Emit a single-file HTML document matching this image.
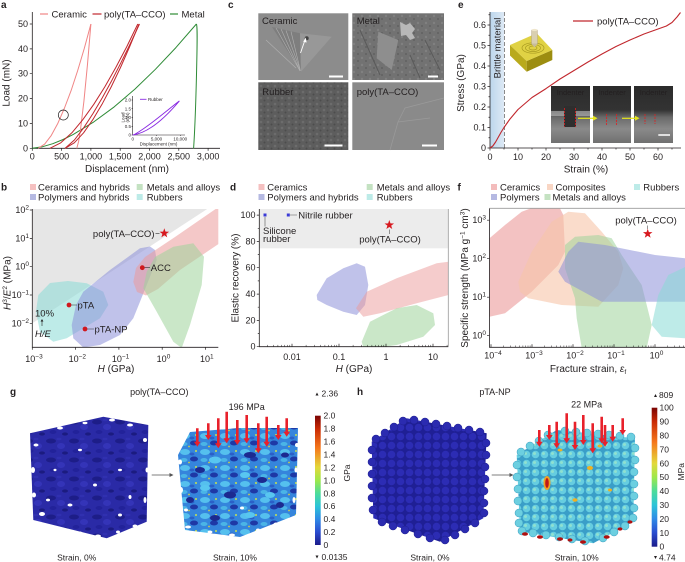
<!DOCTYPE html>
<html><head><meta charset="utf-8">
<style>
html,body{margin:0;padding:0;background:#fff;width:685px;height:562px;overflow:hidden}
svg{display:block}
text{font-family:"Liberation Sans",Arial,sans-serif;fill:#231f20}
.ax{stroke:#231f20;stroke-width:0.8;fill:none}
.tk{stroke:#231f20;stroke-width:0.7;fill:none}
</style></head><body>
<svg width="685" height="562" viewBox="0 0 685 562" xmlns="http://www.w3.org/2000/svg">
<defs>
<clipPath id="cb"><rect x="32.3" y="209" width="186" height="138.3"/></clipPath>
<clipPath id="cd"><rect x="259.3" y="209" width="189" height="137.7"/></clipPath>
<clipPath id="cf"><rect x="489.5" y="208.3" width="195.5" height="139"/></clipPath>
<linearGradient id="jet" x1="0" y1="0" x2="0" y2="1">
<stop offset="0" stop-color="#7a0403"/><stop offset="0.1" stop-color="#c92a05"/><stop offset="0.25" stop-color="#f5781c"/>
<stop offset="0.4" stop-color="#e3d83a"/><stop offset="0.5" stop-color="#9ee84a"/><stop offset="0.6" stop-color="#4cdc9a"/>
<stop offset="0.7" stop-color="#2cc4d8"/><stop offset="0.8" stop-color="#2f8ae6"/><stop offset="0.9" stop-color="#2a4cd0"/>
<stop offset="1" stop-color="#1b1b8a"/></linearGradient>
<linearGradient id="sem" x1="0" y1="0" x2="0" y2="1"><stop offset="0" stop-color="#2b2b2b"/><stop offset="0.42" stop-color="#333"/><stop offset="0.55" stop-color="#6a6a6a"/><stop offset="0.75" stop-color="#8a8a8a"/><stop offset="1" stop-color="#707070"/></linearGradient>
<linearGradient id="brit" x1="0" y1="0" x2="1" y2="0"><stop offset="0" stop-color="#bcd6ec"/><stop offset="1" stop-color="#dde9f5"/></linearGradient>
<pattern id="nz" width="7" height="6" patternUnits="userSpaceOnUse"><rect width="7" height="6" fill="#5d5d5d"/><circle cx="2" cy="2" r="1.3" fill="#6c6c6c"/><circle cx="5.5" cy="4.5" r="1" fill="#4c4c4c"/></pattern>
<pattern id="nz2" width="8" height="7" patternUnits="userSpaceOnUse"><rect width="8" height="7" fill="#727272"/><circle cx="2" cy="2" r="1.2" fill="#808080"/><circle cx="6" cy="5" r="1" fill="#616161"/></pattern>
<pattern id="pgL" width="23" height="19" patternUnits="userSpaceOnUse"><rect width="23" height="19" fill="#2a2aa6"/><ellipse cx="5" cy="4" rx="5" ry="2.5" fill="#1d1d88"/><ellipse cx="15" cy="9" rx="4" ry="3" fill="#3434b8"/><ellipse cx="7" cy="14" rx="3.5" ry="2" fill="#22229a"/><ellipse cx="19" cy="16" rx="3" ry="1.6" fill="#1b1b80"/><ellipse cx="13" cy="2" rx="2.5" ry="1.2" fill="#3030b0"/></pattern>
<pattern id="pgR" width="20" height="16" patternUnits="userSpaceOnUse"><rect width="20" height="16" fill="#3585dc"/><ellipse cx="5" cy="4" rx="5" ry="3" fill="#55c0ee"/><ellipse cx="14" cy="11" rx="4" ry="2.5" fill="#1e38a6"/><circle cx="16" cy="3" r="1" fill="#c8e050"/><ellipse cx="4" cy="12" rx="3.5" ry="2" fill="#4ab4e6"/><ellipse cx="12" cy="6" rx="2.5" ry="1.5" fill="#2a5fc8"/><circle cx="9" cy="14.5" r="0.9" fill="#d0d040"/></pattern>
<pattern id="phL" width="9" height="9" patternUnits="userSpaceOnUse"><rect width="9" height="9" fill="#1f1f95"/><circle cx="4.5" cy="4.5" r="3.8" fill="#2c2cb4"/></pattern>
<pattern id="phR" width="9" height="9" patternUnits="userSpaceOnUse"><rect width="9" height="9" fill="#3a9ec8"/><circle cx="4.5" cy="4.5" r="3.8" fill="#66cde0"/><circle cx="3.5" cy="3.5" r="1.5" fill="#8fe0d0"/></pattern>
</defs>

<!-- ================= Panel a ================= -->
<text x="1" y="8" font-size="10" font-weight="bold">a</text>
<line x1="40" y1="14" x2="48" y2="14" stroke="#f08585" stroke-width="1.2"/>
<text x="51.5" y="17.3" font-size="9.5">Ceramic</text>
<line x1="92.5" y1="14" x2="101.5" y2="14" stroke="#c1272d" stroke-width="1.2"/>
<text x="104" y="17.3" font-size="9.5">poly(TA–CCO)</text>
<line x1="170" y1="14" x2="178" y2="14" stroke="#2e8b36" stroke-width="1.2"/>
<text x="181.5" y="17.3" font-size="9.5">Metal</text>
<path class="ax" d="M32.3,12V148.3H220"/>
<path class="tk" d="M29.8,148.3H32.3M29.8,123.4H32.3M29.8,98.6H32.3M29.8,73.7H32.3M29.8,48.9H32.3M29.8,24H32.3M32.3,148.3v2.5M61.6,148.3v2.5M90.9,148.3v2.5M120.2,148.3v2.5M149.5,148.3v2.5M178.8,148.3v2.5M208.1,148.3v2.5"/>
<g font-size="9" text-anchor="end">
<text x="28" y="151.3">0</text><text x="28" y="126.4">10</text><text x="28" y="101.6">20</text><text x="28" y="76.7">30</text><text x="28" y="51.9">40</text><text x="28" y="27">50</text>
</g>
<g font-size="9" text-anchor="middle">
<text x="32.3" y="159.7">0</text><text x="61.6" y="159.7">500</text><text x="90.9" y="159.7">1,000</text><text x="120.2" y="159.7">1,500</text><text x="149.5" y="159.7">2,000</text><text x="178.8" y="159.7">2,500</text><text x="208.1" y="159.7">3,000</text>
</g>
<text x="127" y="172" font-size="10" text-anchor="middle">Displacement (nm)</text>
<text x="9.5" y="83" font-size="10" text-anchor="middle" transform="rotate(-90 9.5 83)">Load (mN)</text>
<g fill="none" stroke-width="1" stroke-linejoin="round">
<polyline stroke="#2e8b36" points="32.3,148.3 42.6,146.7 52.8,143.7 63.1,139.5 73.3,134.4 93.8,121.9 114.3,106.8 134.9,89.1 155.4,69.3 175.9,47.6 196.4,24"/>
<path stroke="#2e8b36" d="M196.4,24 C197.5,26 197.3,40 196.6,70 C195.8,105 194.5,135 193.6,148.3"/>
<polyline stroke="#f08585" points="38.2,148.3 44.7,144.1 51.3,135.4 57.9,123.2 64.5,108 71.1,90.6 77.7,70.5 84.3,48.4 90.9,24"/>
<polyline stroke="#f08585" points="90.9,24 87.4,65.3 83.9,101.3 80.4,130.4 78.6,141.5 76.8,148.3"/>
<polyline stroke="#c1272d" points="49.9,148.3 60.8,142.8 71.9,132.8 82.8,119.7 93.8,104.3 104.8,86.9 115.8,67.5 126.8,46.6 137.8,24"/>
<polyline stroke="#c1272d" points="139,24 129.7,46.6 120.5,67.5 111.2,86.9 102,104.3 92.8,119.7 83.6,132.8 74.3,142.8 65.1,148.3"/>
<polyline stroke="#c1272d" points="65.1,148.3 74.4,140 83.7,127.8 93,113.5 102.3,97.8 111.6,80.9 120.9,62.8 130.2,43.9 139.5,24"/>
</g>
<circle cx="63.3" cy="115" r="5" fill="none" stroke="#231f20" stroke-width="0.7"/>
<!-- inset -->
<path d="M132.7,96V135H185" fill="none" stroke="#231f20" stroke-width="0.6"/>
<path d="M131.5,135H132.7M131.5,126.25H132.7M131.5,117.5H132.7M131.5,108.75H132.7M131.5,100H132.7M156.5,135v1M180.3,135v1" stroke="#231f20" stroke-width="0.5"/>
<g font-size="4.5" text-anchor="end">
<text x="131" y="136.5">0</text><text x="131" y="127.8">0.5</text><text x="131" y="119">1.0</text><text x="131" y="110.3">1.5</text><text x="131" y="101.5">2.0</text>
</g>
<g font-size="4.5" text-anchor="middle">
<text x="132.7" y="140.5">0</text><text x="156.5" y="140.5">5,000</text><text x="180.3" y="140.5">10,000</text>
<text x="158.5" y="145.5">Displacement (nm)</text>
<text x="124.5" y="117.5" transform="rotate(-90 124.5 117.5)">Load</text>
<text x="129" y="117.5" transform="rotate(-90 129 117.5)">(mN)</text>
</g>
<line x1="140" y1="99.3" x2="146.5" y2="99.3" stroke="#8a2be2" stroke-width="0.9"/>
<text x="148" y="101" font-size="4.5">Rubber</text>
<path d="M132.7,135 C148,133 165,118 179.4,100.9 M179.4,100.9 C165,112 148,127 133.5,135" fill="none" stroke="#8a2be2" stroke-width="0.9"/>

<!-- ================= Panel c ================= -->
<text x="228" y="8" font-size="10" font-weight="bold">c</text>
<rect x="258.3" y="13.3" width="90" height="66.7" fill="#8c8c8c"/>
<polygon points="272,27 300,33.3 301,71.7" fill="#7e7e7e"/>
<polygon points="300,33.3 331.7,36.7 301,71.7" fill="#989898"/>
<path d="M276,28 L300,71 M281,29 L300,71 M286,30.5 L300.5,71 M291,31.5 L300.5,71 M266,40 L296,68" stroke="#b0b0b0" stroke-width="0.6" fill="none"/>
<circle cx="306.7" cy="38.3" r="2" fill="#444"/>
<path d="M300.5,53 L305,40" stroke="#fff" stroke-width="0.9"/><polygon points="305.8,37.5 303.2,41.8 306.6,42.5" fill="#fff"/>
<rect x="352.3" y="13.3" width="91.7" height="66.7" fill="url(#nz2)"/>
<polygon points="378.3,31.7 398.3,40 391.7,70 376.7,58.3" fill="#8e8e8e"/>
<path d="M400,22 l6,3 l4,-2 l5,6 l-3,4 l3,5 l-5,2 l-4,-5 l-5,1 z" fill="#b8b8b8"/>
<path d="M360,30 L380,75 M425,40 L440,70 M410,55 L420,78" stroke="#5a5a5a" stroke-width="1" fill="none"/>
<rect x="258.3" y="82.3" width="90" height="67.7" fill="url(#nz)"/>
<rect x="352.3" y="82.3" width="91.7" height="67.7" fill="#8a8a8a"/>
<path d="M390,150 L398,122 L405,108 L444,98 M398,122 L430,118" stroke="#9a9a9a" stroke-width="0.8" fill="none"/>
<g font-size="9.5" fill="#fff">
<text x="262" y="24" fill="#fff">Ceramic</text><text x="356.7" y="24" fill="#fff">Metal</text>
<text x="262.3" y="95" fill="#fff">Rubber</text><text x="356.7" y="95" fill="#fff">poly(TA–CCO)</text>
</g>
<path d="M329,76.5H343M428,76.5H438M324.5,145.5H342.5M422,145.5H437" stroke="#fff" stroke-width="2"/>

<!-- ================= Panel e ================= -->
<text x="458" y="8" font-size="10" font-weight="bold">e</text>
<rect x="490" y="12" width="14" height="136" fill="url(#brit)"/>
<line x1="504.5" y1="12" x2="504.5" y2="148" stroke="#8a8a8a" stroke-width="1" stroke-dasharray="4,2"/>
<text x="500.5" y="48" font-size="9.5" text-anchor="middle" transform="rotate(-90 500.5 48)">Brittle material</text>
<path class="ax" d="M490,12V148H681"/>
<path class="tk" d="M487.5,148H490M487.5,127.5H490M487.5,107H490M487.5,86.5H490M487.5,66H490M487.5,45.5H490M487.5,25H490M488.5,137.75H490M488.5,117.25H490M488.5,96.75H490M488.5,76.25H490M488.5,55.75H490M488.5,35.25H490M488.5,14.75H490
M490,148v2.5M518,148v2.5M546,148v2.5M574,148v2.5M602,148v2.5M630,148v2.5M658,148v2.5M504,148v1.5M532,148v1.5M560,148v1.5M588,148v1.5M616,148v1.5M644,148v1.5M672,148v1.5"/>
<g font-size="9" text-anchor="end">
<text x="486" y="151">0</text><text x="486" y="130.5">0.1</text><text x="486" y="110">0.2</text><text x="486" y="89.5">0.3</text><text x="486" y="69">0.4</text><text x="486" y="48.5">0.5</text><text x="486" y="28">0.6</text>
</g>
<g font-size="9" text-anchor="middle">
<text x="490" y="160">0</text><text x="518" y="160">10</text><text x="546" y="160">20</text><text x="574" y="160">30</text><text x="602" y="160">40</text><text x="630" y="160">50</text><text x="658" y="160">60</text>
</g>
<text x="586" y="172.5" font-size="10" text-anchor="middle">Strain (%)</text>
<text x="464" y="83" font-size="10" text-anchor="middle" transform="rotate(-90 464 83)">Stress (GPa)</text>
<line x1="573" y1="21" x2="593" y2="21" stroke="#c1272d" stroke-width="1.2"/>
<text x="597" y="24.5" font-size="9.5">poly(TA–CCO)</text>
<!-- block -->
<polygon points="510,45 510,55.5 526.7,71.7 526.7,61" fill="#b9aa1c"/>
<polygon points="526.7,61 552.3,50 552.3,60 526.7,71.7" fill="#9c8d10"/>
<polygon points="510,45 536.7,33.3 552.3,50 526.7,61" fill="#e0d244"/>
<g fill="none" stroke="#a89a20" stroke-width="0.7">
<ellipse cx="533" cy="48" rx="4" ry="2"/><ellipse cx="533" cy="48" rx="7.5" ry="3.6"/><ellipse cx="533" cy="48" rx="11" ry="5.2"/>
</g>
<rect x="531.5" y="30" width="6" height="14" fill="#d9cfb0" stroke="#a09070" stroke-width="0.3"/>
<ellipse cx="534.5" cy="30" rx="3" ry="1.1" fill="#efe6cc"/>
<polygon points="531.5,44 537.5,44 534.5,47.5" fill="#c8bc98"/>
<!-- SEM insets -->
<rect x="551" y="86" width="39" height="57" fill="url(#sem)"/>
<rect x="551" y="111" width="39" height="5" fill="#bdbdbd" opacity="0.6"/>
<rect x="564" y="106" width="12" height="21" fill="#2e2e2e"/>
<rect x="593" y="86" width="38" height="57" fill="url(#sem)"/>
<rect x="634" y="86" width="39" height="57" fill="url(#sem)"/>
<path d="M564.5,108V127M575.5,108V127M606.5,114V126M616.5,114V126M645,114V124M655,114V124" stroke="#e02020" stroke-width="0.8" stroke-dasharray="2,1"/>
<g font-size="7.5" text-anchor="middle">
<text x="570.5" y="95" fill="#fff">Indenter</text><text x="612" y="95" fill="#fff">Indenter</text><text x="653.5" y="95" fill="#fff">Indenter</text>
</g>
<path d="M578,118.3H594" stroke="#e6e61a" stroke-width="1.2"/><polygon points="597.5,118.3 593,115.8 593,120.8" fill="#e6e61a"/>
<path d="M622,118.3H636" stroke="#e6e61a" stroke-width="1.2"/><polygon points="639.5,118.3 635,115.8 635,120.8" fill="#e6e61a"/>
<path d="M658.3,135H670" stroke="#fff" stroke-width="1.5"/>
<polyline fill="none" stroke="#c1272d" stroke-width="1.1" stroke-linejoin="round" points="490,148 492.8,146 495.6,142 498.4,137 501.2,132 504,127.5 509.6,119.5 518,109.5 532,97.5 546,88.6 560,79 574,70.5 588,62 602,54 616,46.5 630,40 644,34 658,29 666.4,26 672,22.5 677,17 680.5,12.5"/>

<!-- ================= Panel b ================= -->
<text x="1" y="190.5" font-size="10" font-weight="bold">b</text>
<rect x="30" y="184" width="6" height="6" fill="#f5c0c0"/><text x="38" y="190.5" font-size="9.5">Ceramics and hybrids</text>
<rect x="136.7" y="184" width="6" height="6" fill="#c4e2c2"/><text x="146.7" y="190.5" font-size="9.5">Metals and alloys</text>
<rect x="30" y="194" width="6" height="6" fill="#b5b9e2"/><text x="38" y="200.5" font-size="9.5">Polymers and hybrids</text>
<rect x="136.7" y="194" width="6" height="6" fill="#bdebe8"/><text x="146.7" y="200.5" font-size="9.5">Rubbers</text>
<g clip-path="url(#cb)">
<polygon points="32.3,209 207.2,209 32.3,323.3" fill="#e6e6e6"/>
<polygon points="38.3,295 50,283 68,281 86.7,283.3 103.3,291.7 108.3,305 100,318.3 83.3,328.3 66.7,338.3 53.3,341.7 40,331.7 36,311.7" fill="#89dbd5" opacity="0.55"/>
<polygon points="71.7,325 76,305 83.3,291.7 110,270 140,248.3 150,246.5 155,250 156.7,260 146.7,285 140,301.7 133.3,318.3 120,335 100,345 83.3,347.5 73.3,338.3" fill="#8c8fd8" opacity="0.55"/>
<polygon points="133.3,282 136,268 145,257 175,237 218.5,207 218.5,244 180,270 158,289 146,295.5 137,292" fill="#eb9a9a" opacity="0.55"/>
<polygon points="146.7,271.7 155,257 173.3,246.7 193.3,243.3 204,256.7 201.7,285 190,325 181.7,348 173.3,341.7 156.7,311.7 143.3,288.3" fill="#9fd39a" opacity="0.55"/>
</g>
<path class="ax" d="M32.3,209V347.3H218.3"/>
<path class="tk" d="M29.8,210H32.3M29.8,238.4H32.3M29.8,266.7H32.3M29.8,295H32.3M29.8,323.3H32.3M32.3,347.3v2.5M75.6,347.3v2.5M118.9,347.3v2.5M162.2,347.3v2.5M205.5,347.3v2.5"/>
<g font-size="9" text-anchor="end">
<text x="29" y="213">10<tspan dy="-3.5" font-size="6.5">2</tspan></text>
<text x="29" y="241.4">10<tspan dy="-3.5" font-size="6.5">1</tspan></text>
<text x="29" y="269.7">10<tspan dy="-3.5" font-size="6.5">0</tspan></text>
<text x="29" y="298">10<tspan dy="-3.5" font-size="6.5">−1</tspan></text>
<text x="29" y="326.3">10<tspan dy="-3.5" font-size="6.5">−2</tspan></text>
</g>
<g font-size="9" text-anchor="middle">
<text x="34" y="362">10<tspan dy="-3.5" font-size="6.5">−3</tspan></text>
<text x="77.3" y="362">10<tspan dy="-3.5" font-size="6.5">−2</tspan></text>
<text x="120.6" y="362">10<tspan dy="-3.5" font-size="6.5">−1</tspan></text>
<text x="163.5" y="362">10<tspan dy="-3.5" font-size="6.5">0</tspan></text>
<text x="206.8" y="362">10<tspan dy="-3.5" font-size="6.5">1</tspan></text>
</g>
<text x="116" y="372" font-size="10" text-anchor="middle"><tspan font-style="italic">H</tspan> (GPa)</text>
<text x="10.5" y="283" font-size="10" text-anchor="middle" transform="rotate(-90 10.5 283)"><tspan font-style="italic">H</tspan><tspan dy="-3.5" font-size="6.5">3</tspan><tspan dy="3.5">/</tspan><tspan font-style="italic">E</tspan><tspan dy="-3.5" font-size="6.5">2</tspan><tspan dy="3.5"> (MPa)</tspan></text>
<text x="35" y="316.5" font-size="9.5">10%</text>
<path d="M42,326V320.5" stroke="#231f20" stroke-width="0.6"/><polygon points="42,319 40.6,321.5 43.4,321.5" fill="#231f20"/>
<text x="35" y="337" font-size="9.5" font-style="italic">H/E</text>
<g stroke="#333" stroke-width="0.6">
<path d="M155.5,233.3H159.5M144.5,267.7H150M71,305H77M87,329H94"/>
</g>
<g fill="#d0181e"><circle cx="142.3" cy="267.7" r="2.4"/><circle cx="69" cy="305" r="2.4"/><circle cx="85" cy="329" r="2.4"/></g>
<polygon transform="translate(164.3 233.3)" points="0,-5 1.18,-1.62 4.76,-1.55 1.9,0.62 2.94,4.05 0,2 -2.94,4.05 -1.9,0.62 -4.76,-1.55 -1.18,-1.62" fill="#d7191f"/>
<g font-size="9.5">
<text x="154.5" y="236.8" text-anchor="end">poly(TA–CCO)</text>
<text x="150.8" y="271">ACC</text>
<text x="77.5" y="308.5">pTA</text>
<text x="94.5" y="332.5">pTA-NP</text>
</g>

<!-- ================= Panel d ================= -->
<text x="230" y="190.5" font-size="10" font-weight="bold">d</text>
<rect x="258.5" y="184" width="6" height="6" fill="#f5c0c0"/><text x="267.3" y="190.5" font-size="9.5">Ceramics</text>
<rect x="366.7" y="184" width="6" height="6" fill="#c4e2c2"/><text x="376.7" y="190.5" font-size="9.5">Metals and alloys</text>
<rect x="258.5" y="194" width="6" height="6" fill="#b5b9e2"/><text x="267.3" y="200.5" font-size="9.5">Polymers and hybrids</text>
<rect x="366.7" y="194" width="6" height="6" fill="#bdebe8"/><text x="376.7" y="200.5" font-size="9.5">Rubbers</text>
<g clip-path="url(#cd)">
<rect x="259.3" y="209" width="189" height="39.3" fill="#ececec"/>
<polygon points="316.7,295 326.7,278.3 343.3,268.3 356.7,263.3 365,266.7 368.3,285 365,305 356.7,315 343.3,311.7 326.7,305 317.3,300" fill="#8c8fd8" opacity="0.55"/>
<polygon points="356,308.3 366.7,291.7 396.7,278.3 436.7,263.3 448.5,261.7 448.5,295 416.7,303.3 380,313.3 363.3,316.7" fill="#eb9a9a" opacity="0.5"/>
<polygon points="361.7,341.7 370,321.7 396.7,308.3 416.7,305 433.3,313.3 435,325 423.3,336.7 396.7,345 373.3,348.3 363.3,347.3" fill="#9fd39a" opacity="0.55"/>
</g>
<path class="ax" d="M259.3,209V346.7H448.3"/>
<line x1="448.3" y1="209" x2="448.3" y2="346.7" stroke="#9a9a9a" stroke-width="0.8"/>
<path class="tk" d="M256.8,346.7H259.3M256.8,320.4H259.3M256.8,294.1H259.3M256.8,267.7H259.3M256.8,241.4H259.3M256.8,215.1H259.3M257.8,333.5H259.3M257.8,307.2H259.3M257.8,280.9H259.3M257.8,254.6H259.3M257.8,228.3H259.3
M292,346.7v-3M339,346.7v-3M386,346.7v-3M433,346.7v-3"/>
<path d="M267.4,346.7v-1.8M273.3,346.7v-1.8M277.9,346.7v-1.8M281.6,346.7v-1.8M284.7,346.7v-1.8M287.4,346.7v-1.8M289.8,346.7v-1.8M306.1,346.7v-1.8M314.4,346.7v-1.8M320.3,346.7v-1.8M324.9,346.7v-1.8M328.6,346.7v-1.8M331.7,346.7v-1.8M334.4,346.7v-1.8M336.8,346.7v-1.8M353.1,346.7v-1.8M361.4,346.7v-1.8M367.3,346.7v-1.8M371.9,346.7v-1.8M375.6,346.7v-1.8M378.7,346.7v-1.8M381.4,346.7v-1.8M383.8,346.7v-1.8M400.1,346.7v-1.8M408.4,346.7v-1.8M414.3,346.7v-1.8M418.9,346.7v-1.8M422.6,346.7v-1.8M425.7,346.7v-1.8M428.4,346.7v-1.8M430.8,346.7v-1.8M447.1,346.7v-1.8" stroke="#231f20" stroke-width="0.5"/>
<g font-size="9" text-anchor="end">
<text x="255.5" y="349.7">0</text><text x="255.5" y="323.4">20</text><text x="255.5" y="297.1">40</text><text x="255.5" y="270.7">60</text><text x="255.5" y="244.4">80</text><text x="255.5" y="218.1">100</text>
</g>
<g font-size="9" text-anchor="middle">
<text x="292" y="360">0.01</text><text x="339" y="360">0.1</text><text x="386" y="360">1</text><text x="433" y="360">10</text>
</g>
<text x="354" y="372" font-size="10" text-anchor="middle"><tspan font-style="italic">H</tspan> (GPa)</text>
<text x="238.5" y="278" font-size="10" text-anchor="middle" transform="rotate(-90 238.5 278)">Elastic recovery (%)</text>
<rect x="263.5" y="213.5" width="3" height="3" fill="#3b3bd6"/>
<rect x="286.8" y="213.5" width="3" height="3" fill="#3b3bd6"/>
<path d="M265,217V226.5M290,215H297" stroke="#555" stroke-width="0.6"/>
<g font-size="9.5" fill="#6d6d6d">
<text x="263" y="234" fill="#6d6d6d">Silicone</text><text x="263" y="242" fill="#6d6d6d">rubber</text>
<text x="298.3" y="218.5" fill="#6d6d6d">Nitrile rubber</text>
</g>
<polygon transform="translate(389.3 225)" points="0,-5 1.18,-1.62 4.76,-1.55 1.9,0.62 2.94,4.05 0,2 -2.94,4.05 -1.9,0.62 -4.76,-1.55 -1.18,-1.62" fill="#d7191f"/>
<path d="M389.3,229.5V234" stroke="#555" stroke-width="0.6"/>
<text x="390" y="242.5" font-size="9.5" text-anchor="middle">poly(TA–CCO)</text>

<!-- ================= Panel f ================= -->
<text x="457.5" y="190.5" font-size="10" font-weight="bold">f</text>
<rect x="491" y="184" width="6" height="6" fill="#f3bcbc"/><text x="500" y="190.5" font-size="9.5">Ceramics</text>
<rect x="547" y="184" width="6" height="6" fill="#f9d6c4"/><text x="555.5" y="190.5" font-size="9.5">Composites</text>
<rect x="634" y="184" width="6" height="6" fill="#bdebe8"/><text x="643.3" y="190.5" font-size="9.5">Rubbers</text>
<rect x="491" y="194" width="6" height="6" fill="#b5b9e2"/><text x="500" y="200.5" font-size="9.5">Polymers</text>
<rect x="544.5" y="194" width="6" height="6" fill="#c4e2c2"/><text x="552.5" y="200.5" font-size="9.5">Metals and alloys</text>
<g clip-path="url(#cf)">
<polygon points="489.5,238.3 505,225 521.7,211.7 540,205 558.3,205 563.3,215 565,251.7 558.3,265 531.7,291.7 505,313.3 489.5,316.7" fill="#eb9a9a" opacity="0.6"/>
<polygon points="518.3,281.7 531.7,251.7 551.7,221.7 568.3,211.7 585,213.3 601.7,231.7 618.3,251.7 623.3,268.3 618.3,285 598.3,306.7 561.7,305 528.3,298.3 520,291.7" fill="#f7c4a8" opacity="0.6"/>
<polygon points="565,245 575,236.7 598.3,235 611.7,238.3 621.7,255 641.7,285 651.7,325 646.7,348 581.7,348 576.7,318.3 575,298.3 565,268.3" fill="#9fd39a" opacity="0.55"/>
<polygon points="558.3,271.7 568.3,251.7 578.3,241.7 605,245 655,255 686,258.3 686,301.7 601.7,301.7 565,281.7" fill="#8c8fd8" opacity="0.55"/>
<polygon points="651.7,325 658.3,295 668.3,275 686,266.7 686,338.3 661.7,336.7" fill="#89dbd5" opacity="0.55"/>
</g>
<path class="ax" d="M489.5,208.3V347.3H685"/>
<line x1="489.5" y1="208.3" x2="685" y2="208.3" stroke="#9a9a9a" stroke-width="0.8"/>
<path class="tk" d="M487,220.2H489.5M487,258.7H489.5M487,297.2H489.5M487,335.7H489.5M491,347.3v-3M532,347.3v-3M573,347.3v-3M614,347.3v-3M655,347.3v-3"/>
<path d="M503.3,347.3v-1.8M510.6,347.3v-1.8M515.7,347.3v-1.8M519.7,347.3v-1.8M522.9,347.3v-1.8M525.6,347.3v-1.8M528,347.3v-1.8M530.1,347.3v-1.8M544.3,347.3v-1.8M551.6,347.3v-1.8M556.7,347.3v-1.8M560.7,347.3v-1.8M563.9,347.3v-1.8M566.6,347.3v-1.8M569,347.3v-1.8M571.1,347.3v-1.8M585.3,347.3v-1.8M592.6,347.3v-1.8M597.7,347.3v-1.8M601.7,347.3v-1.8M604.9,347.3v-1.8M607.6,347.3v-1.8M610,347.3v-1.8M612.1,347.3v-1.8M626.3,347.3v-1.8M633.6,347.3v-1.8M638.7,347.3v-1.8M642.7,347.3v-1.8M645.9,347.3v-1.8M648.6,347.3v-1.8M651,347.3v-1.8M653.1,347.3v-1.8M667.3,347.3v-1.8M674.6,347.3v-1.8M679.7,347.3v-1.8M683.7,347.3v-1.8" stroke="#231f20" stroke-width="0.5"/>
<g font-size="9" text-anchor="end">
<text x="486" y="223.2">10<tspan dy="-3.5" font-size="6.5">3</tspan></text>
<text x="486" y="261.7">10<tspan dy="-3.5" font-size="6.5">2</tspan></text>
<text x="486" y="300.2">10<tspan dy="-3.5" font-size="6.5">1</tspan></text>
<text x="486" y="338.7">10<tspan dy="-3.5" font-size="6.5">0</tspan></text>
</g>
<g font-size="9" text-anchor="middle">
<text x="493" y="358.5">10<tspan dy="-3.5" font-size="6.5">−4</tspan></text>
<text x="534" y="358.5">10<tspan dy="-3.5" font-size="6.5">−3</tspan></text>
<text x="575" y="358.5">10<tspan dy="-3.5" font-size="6.5">−2</tspan></text>
<text x="616" y="358.5">10<tspan dy="-3.5" font-size="6.5">−1</tspan></text>
<text x="656.5" y="358.5">10<tspan dy="-3.5" font-size="6.5">0</tspan></text>
</g>
<text x="588" y="372" font-size="10" text-anchor="middle">Fracture strain, <tspan font-style="italic">ε</tspan><tspan dy="2" font-size="6.5">f</tspan></text>
<text x="468" y="278" font-size="10" text-anchor="middle" transform="rotate(-90 468 278)">Specific strength (MPa g<tspan dy="-3.5" font-size="6.5">−1</tspan><tspan dy="3.5"> cm</tspan><tspan dy="-3.5" font-size="6.5">3</tspan><tspan dy="3.5">)</tspan></text>
<text x="646" y="223.5" font-size="9.5" text-anchor="middle">poly(TA–CCO)</text>
<path d="M647.7,225.5V229" stroke="#555" stroke-width="0.6"/>
<polygon transform="translate(647.7 233.7)" points="0,-5 1.18,-1.62 4.76,-1.55 1.9,0.62 2.94,4.05 0,2 -2.94,4.05 -1.9,0.62 -4.76,-1.55 -1.18,-1.62" fill="#d7191f"/>

<!-- ================= Panel g ================= -->
<text x="10" y="395" font-size="10" font-weight="bold">g</text>
<text x="159.3" y="395" font-size="9" text-anchor="middle">poly(TA–CCO)</text>
<polygon points="30,433.3 103.3,416.7 148.3,425 146.7,521.7 106.7,538.3 33.3,520" fill="url(#pgL)"/>
<g fill="#fff">
<ellipse cx="36" cy="445" rx="2.5" ry="1.5"/><ellipse cx="33" cy="470" rx="2" ry="3"/><ellipse cx="34" cy="495" rx="2" ry="2.5"/><ellipse cx="42" cy="514" rx="3" ry="2"/><ellipse cx="58" cy="528" rx="3" ry="1.5"/><ellipse cx="80" cy="533" rx="2.5" ry="1.5"/><ellipse cx="98" cy="536" rx="3" ry="1.5"/><ellipse cx="118" cy="532" rx="2" ry="1.5"/><ellipse cx="135" cy="526" rx="2.5" ry="1.5"/><ellipse cx="145" cy="500" rx="1.5" ry="3"/><ellipse cx="147" cy="470" rx="1.5" ry="2.5"/><ellipse cx="145" cy="440" rx="2" ry="2"/><ellipse cx="130" cy="425" rx="3" ry="1.5"/><ellipse cx="112" cy="420" rx="3" ry="1.5"/><ellipse cx="85" cy="423" rx="2.5" ry="1.2"/><ellipse cx="60" cy="428" rx="3" ry="1.5"/><ellipse cx="95" cy="485" rx="2" ry="1.5"/><ellipse cx="70" cy="505" rx="2.5" ry="1.5"/><ellipse cx="120" cy="470" rx="2" ry="1.2"/><ellipse cx="55" cy="470" rx="1.5" ry="1.2"/><ellipse cx="80" cy="450" rx="2" ry="1.2"/><ellipse cx="130" cy="497" rx="1.5" ry="2"/><ellipse cx="120" cy="515" rx="2" ry="1.5"/><ellipse cx="48" cy="500" rx="2" ry="1.4"/>
</g>
<path d="M151.7,475H170" stroke="#555" stroke-width="0.8"/><polygon points="173.5,475 169.5,473 169.5,477" fill="#555"/>
<polygon points="178,455 190,432 240,428 298,428 296,515 240,537 185,530" fill="url(#pgR)"/>
<g fill="#1c2a90">
<ellipse cx="200" cy="470" rx="5" ry="3"/><ellipse cx="230" cy="495" rx="6" ry="3.5"/><ellipse cx="262" cy="480" rx="5" ry="3"/><ellipse cx="280" cy="505" rx="4" ry="3"/><ellipse cx="215" cy="518" rx="5" ry="3"/><ellipse cx="250" cy="455" rx="6" ry="3"/><ellipse cx="190" cy="500" rx="4" ry="3"/><ellipse cx="285" cy="455" rx="4" ry="2.5"/>
</g>
<g fill="#58c6f0"><ellipse cx="215" cy="460" rx="6" ry="3.5"/><ellipse cx="245" cy="475" rx="5" ry="3"/><ellipse cx="270" cy="495" rx="5" ry="3"/><ellipse cx="205" cy="488" rx="5" ry="3"/><ellipse cx="250" cy="515" rx="5" ry="3"/></g>
<g fill="#fff">
<ellipse cx="180" cy="462" rx="2" ry="2.5"/><ellipse cx="181" cy="490" rx="2" ry="3"/><ellipse cx="188" cy="527" rx="3" ry="1.5"/><ellipse cx="210" cy="532" rx="2.5" ry="1.5"/><ellipse cx="232" cy="535" rx="3" ry="1.5"/><ellipse cx="258" cy="530" rx="2" ry="1.5"/><ellipse cx="276" cy="524" rx="2.5" ry="1.5"/><ellipse cx="294" cy="500" rx="1.5" ry="3"/><ellipse cx="296" cy="470" rx="1.5" ry="2.5"/><ellipse cx="297" cy="445" rx="2" ry="2"/><ellipse cx="242" cy="508" rx="2" ry="1.5"/><ellipse cx="186" cy="510" rx="2" ry="1.5"/>
</g>
<g fill="#e8212b">
<path d="M196,428.3h2.6V441.7h2L197.3,446.7L194,441.7h2Z"/>
<path d="M207,423.3h2.6V435h2L208.3,440L205,435h2Z"/>
<path d="M217,418.3h2.6V443.3h2L218.3,448.3L215,443.3h2Z"/>
<path d="M225.4,411.7h2.6V438.3h2L226.7,443.3L223.4,438.3h2Z"/>
<path d="M236,420h2.6V440h2L237.3,445L234,440h2Z"/>
<path d="M245.4,415h2.6V438.3h2L246.7,443.3L243.4,438.3h2Z"/>
<path d="M257,423.3h2.6V448.3h2L258.3,453.3L255,448.3h2Z"/>
<path d="M265.4,416.7h2.6V441.7h2L266.7,446.7L263.4,441.7h2Z"/>
<path d="M277,425h2.6V435h2L278.3,440L275,435h2Z"/>
<path d="M285.4,418.3h2.6V431.7h2L286.7,436.7L283.4,431.7h2Z"/>
</g>
<text x="246.7" y="410" font-size="9" text-anchor="middle">196 MPa</text>
<rect x="315" y="415.7" width="5.7" height="129.3" fill="url(#jet)"/>
<g font-size="8.5">
<text x="323.5" y="418.7">2.0</text><text x="323.5" y="431.6">1.8</text><text x="323.5" y="444.6">1.6</text><text x="323.5" y="457.5">1.4</text><text x="323.5" y="470.4">1.2</text><text x="323.5" y="483.4">1.0</text><text x="323.5" y="496.3">0.8</text><text x="323.5" y="509.2">0.6</text><text x="323.5" y="522.1">0.4</text><text x="323.5" y="535.1">0.2</text><text x="323.5" y="548">0</text>
<text x="321.5" y="396.5">2.36</text><text x="321.5" y="560">0.0135</text>
</g>
<polygon points="315.5,395.5 318.5,395.5 317,392.5" fill="#231f20"/>
<polygon points="315.5,555.5 318.5,555.5 317,558.5" fill="#231f20"/>
<text x="350" y="473" font-size="8.5" text-anchor="middle" transform="rotate(-90 350 473)">GPa</text>
<g font-size="8.5" text-anchor="middle">
<text x="76.7" y="560.5">Strain, 0%</text><text x="235" y="560.5">Strain, 10%</text>
</g>

<!-- ================= Panel h ================= -->
<text x="357" y="395" font-size="10" font-weight="bold">h</text>
<text x="495" y="395" font-size="9" text-anchor="middle">pTA-NP</text>
<polygon points="371.7,441.7 406.7,418.3 486.7,433.3 483.3,518.3 440,541.7 373.3,518.3" fill="url(#phL)"/>
<g fill="#2b2bb0" stroke="#1e1e90" stroke-width="0.5">
<circle cx="376" cy="439" r="4"/><circle cx="385" cy="433" r="4"/><circle cx="394" cy="427" r="4"/><circle cx="403" cy="421" r="4"/>
<circle cx="414" cy="420" r="4"/><circle cx="425" cy="422" r="4"/><circle cx="436" cy="424" r="4"/><circle cx="447" cy="426" r="4"/><circle cx="458" cy="428" r="4"/><circle cx="469" cy="430" r="4"/><circle cx="480" cy="432" r="4"/>
<circle cx="486" cy="443" r="4"/><circle cx="486" cy="455" r="4"/><circle cx="485" cy="467" r="4"/><circle cx="485" cy="479" r="4"/><circle cx="484" cy="491" r="4"/><circle cx="484" cy="503" r="4"/><circle cx="484" cy="513" r="4"/>
<circle cx="475" cy="523" r="4"/><circle cx="465" cy="529" r="4"/><circle cx="455" cy="535" r="4"/><circle cx="445" cy="540" r="4"/>
<circle cx="430" cy="538" r="4"/><circle cx="418" cy="534" r="4"/><circle cx="405" cy="530" r="4"/><circle cx="393" cy="526" r="4"/><circle cx="382" cy="522" r="4"/>
<circle cx="372" cy="450" r="4"/><circle cx="372" cy="462" r="4"/><circle cx="372" cy="474" r="4"/><circle cx="372" cy="486" r="4"/><circle cx="372" cy="498" r="4"/><circle cx="373" cy="510" r="4"/>
</g>
<path d="M491.7,475H510" stroke="#555" stroke-width="0.8"/><polygon points="513.5,475 509.5,473 509.5,477" fill="#555"/>
<polygon points="516.7,455 556.7,430 635,438.3 633.3,521.7 593.3,543.3 520,531.7" fill="url(#phR)"/>
<g fill="#6ccfe0" stroke="#3a9cc0" stroke-width="0.5">
<circle cx="521" cy="452" r="4"/><circle cx="530" cy="446" r="4"/><circle cx="539" cy="441" r="4"/><circle cx="548" cy="435" r="4"/>
<circle cx="565" cy="431" r="4"/><circle cx="576" cy="432" r="4"/><circle cx="587" cy="433" r="4"/><circle cx="598" cy="434" r="4"/><circle cx="609" cy="435" r="4"/><circle cx="620" cy="436" r="4"/><circle cx="631" cy="437" r="4"/>
<circle cx="635" cy="448" r="4"/><circle cx="635" cy="460" r="4"/><circle cx="634" cy="472" r="4"/><circle cx="634" cy="484" r="4"/><circle cx="634" cy="496" r="4"/><circle cx="634" cy="508" r="4"/><circle cx="633" cy="518" r="4"/>
<circle cx="625" cy="526" r="4"/><circle cx="614" cy="532" r="4"/><circle cx="603" cy="538" r="4"/>
<circle cx="585" cy="541" r="4"/><circle cx="572" cy="539" r="4"/><circle cx="559" cy="537" r="4"/><circle cx="546" cy="535" r="4"/><circle cx="533" cy="533" r="4"/><circle cx="522" cy="531" r="4"/>
<circle cx="517" cy="465" r="4"/><circle cx="517" cy="477" r="4"/><circle cx="518" cy="489" r="4"/><circle cx="518" cy="501" r="4"/><circle cx="519" cy="513" r="4"/><circle cx="519" cy="523" r="4"/>
</g>
<g fill="#b01010">
<ellipse cx="525" cy="534" rx="3" ry="1.8"/><ellipse cx="540" cy="537" rx="3" ry="1.8"/><ellipse cx="560" cy="539" rx="3" ry="1.8"/><ellipse cx="570" cy="540" rx="2.5" ry="1.6"/><ellipse cx="583" cy="542" rx="3" ry="1.8"/><ellipse cx="606.7" cy="537" rx="3" ry="1.8"/><ellipse cx="620" cy="529" rx="2.5" ry="1.6"/><ellipse cx="630" cy="522" rx="2.5" ry="1.6"/>
</g>
<ellipse cx="547" cy="483" rx="3.5" ry="7" fill="#f0a020"/><ellipse cx="547" cy="483" rx="1.8" ry="5" fill="#c01818"/>
<g fill="#f0b020"><ellipse cx="590" cy="468" rx="3" ry="2"/><ellipse cx="575" cy="500" rx="2.5" ry="1.8"/><ellipse cx="610" cy="490" rx="2" ry="1.5"/><ellipse cx="560" cy="450" rx="2.5" ry="1.5"/><ellipse cx="600" cy="446" rx="2.5" ry="1.5"/></g>
<g fill="#e8212b">
<path d="M538,430h2.6V441.7h2L539.3,446.7L536,441.7h2Z"/>
<path d="M548,425h2.6V435h2L549.3,440L546,435h2Z"/>
<path d="M555.4,421.7h2.6V443.3h2L556.7,448.3L553.4,443.3h2Z"/>
<path d="M565.4,413.3h2.6V438.3h2L566.7,443.3L563.4,438.3h2Z"/>
<path d="M573.7,421.7h2.6V445h2L575,450L571.7,445h2Z"/>
<path d="M582,415h2.6V440h2L583.3,445L580,440h2Z"/>
<path d="M591.4,423.3h2.6V448.3h2L592.7,453.3L589.4,448.3h2Z"/>
<path d="M600.4,416.7h2.6V438.3h2L601.7,443.3L598.4,438.3h2Z"/>
<path d="M603.7,425h2.6V441.7h2L605,446.7L601.7,441.7h2Z"/>
<path d="M611.4,425h2.6V436.7h2L612.7,441.7L609.4,436.7h2Z"/>
<path d="M621.4,418.3h2.6V430h2L622.7,435L619.4,430h2Z"/>
</g>
<text x="586.7" y="407.5" font-size="9" text-anchor="middle">22 MPa</text>
<rect x="651.7" y="407.7" width="5.6" height="139" fill="url(#jet)"/>
<g font-size="8.5">
<text x="659.5" y="410.7">100</text><text x="659.5" y="424.6">90</text><text x="659.5" y="438.5">80</text><text x="659.5" y="452.4">70</text><text x="659.5" y="466.3">60</text><text x="659.5" y="480.2">50</text><text x="659.5" y="494.1">40</text><text x="659.5" y="508">30</text><text x="659.5" y="521.9">20</text><text x="659.5" y="535.8">10</text><text x="659.5" y="549.7">0</text>
<text x="659" y="398">809</text><text x="659" y="560.7">4.74</text>
</g>
<polygon points="654,397 657,397 655.5,394" fill="#231f20"/>
<polygon points="654,556 657,556 655.5,559" fill="#231f20"/>
<text x="684" y="471.7" font-size="8.5" text-anchor="middle" transform="rotate(-90 684 471.7)">MPa</text>
<g font-size="8.5" text-anchor="middle">
<text x="430" y="560.5">Strain, 0%</text><text x="576.7" y="560.5">Strain, 10%</text>
</g>
</svg>
</body></html>
